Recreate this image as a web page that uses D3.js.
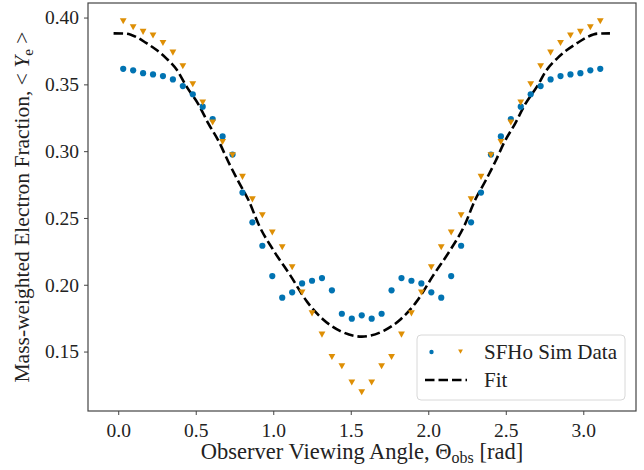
<!DOCTYPE html>
<html>
<head>
<meta charset="utf-8">
<script src="https://cdn.jsdelivr.net/npm/d3@7"></script>
<style>
  body { margin: 0; background: #fff; }
  text { font-family: "Liberation Serif", "DejaVu Serif", serif; fill: #222; }
</style>
</head>
<body>
<div id="chart"></div>
<script>
// viewing angle bin centres [rad]
const angles = [
  0.0321, 0.0962, 0.1603, 0.2244, 0.2885, 0.3526, 0.4167, 0.4809, 0.5450, 0.6091,
  0.6732, 0.7373, 0.8015, 0.8655, 0.9297, 0.9938, 1.0579, 1.1220, 1.1861, 1.2502,
  1.3143, 1.3784, 1.4425, 1.5067, 1.5708, 1.6349, 1.6990, 1.7631, 1.8272, 1.8914,
  1.9555, 2.0196, 2.0837, 2.1478, 2.2119, 2.2760, 2.3402, 2.4043, 2.4684, 2.5325,
  2.5966, 2.6607, 2.7248, 2.7890, 2.8531, 2.9172, 2.9813, 3.0454, 3.1095
];

// SFHo sim data, circles
const yeCircle = [
  0.3616, 0.3605, 0.3584, 0.3574, 0.3562, 0.3537, 0.3487, 0.3426, 0.3333, 0.3240,
  0.3110, 0.2975, 0.2690, 0.2467, 0.2292, 0.2065, 0.1903, 0.1943, 0.2010, 0.2030,
  0.2050, 0.1958, 0.1783, 0.1746, 0.1771, 0.1746, 0.1783, 0.1958, 0.2050, 0.2030,
  0.2010, 0.1943, 0.1903, 0.2065, 0.2292, 0.2467, 0.2690, 0.2975, 0.3110, 0.3240,
  0.3333, 0.3426, 0.3487, 0.3537, 0.3562, 0.3574, 0.3584, 0.3605, 0.3616
];

// SFHo sim data, triangles
const yeTriangle = [
  0.3974, 0.3929, 0.3894, 0.3867, 0.3811, 0.3739, 0.3637, 0.3502, 0.3365, 0.3216,
  0.3070, 0.2971, 0.2809, 0.2640, 0.2522, 0.2392, 0.2282, 0.2132, 0.1943, 0.1787,
  0.1628, 0.1460, 0.1391, 0.1270, 0.1197, 0.1270, 0.1391, 0.1460, 0.1628, 0.1787,
  0.1943, 0.2132, 0.2282, 0.2392, 0.2522, 0.2640, 0.2809, 0.2971, 0.3070, 0.3216,
  0.3365, 0.3502, 0.3637, 0.3739, 0.3811, 0.3867, 0.3894, 0.3929, 0.3974
];

// fit curve
const fitX = [
  -0.03, 0.05, 0.12, 0.18, 0.25, 0.31, 0.38, 0.44, 0.52, 0.58, 0.65, 0.71, 0.77,
  0.84, 0.91, 1.00, 1.11, 1.22, 1.32, 1.43, 1.571,
  1.712, 1.822, 1.922, 2.032, 2.142, 2.232, 2.302, 2.372, 2.432, 2.492, 2.562,
  2.622, 2.702, 2.762, 2.832, 2.892, 2.962, 3.022, 3.092, 3.172
];
const fitY = [
  0.3882, 0.3880, 0.3852, 0.3810, 0.3755, 0.3695, 0.3605, 0.3485, 0.3345, 0.3210,
  0.3070, 0.2921, 0.2784, 0.2634, 0.2440, 0.2260, 0.2070, 0.1870, 0.1742, 0.1655,
  0.1612,
  0.1655, 0.1742, 0.1870, 0.2070, 0.2260, 0.2440, 0.2634, 0.2784, 0.2921, 0.3070,
  0.3210, 0.3345, 0.3485, 0.3605, 0.3695, 0.3755, 0.3810, 0.3852, 0.3880, 0.3882
];

const xTicks = [0.0, 0.5, 1.0, 1.5, 2.0, 2.5, 3.0];
const yTicks = [0.15, 0.20, 0.25, 0.30, 0.35, 0.40];

const width = 644;
const height = 470;
const margin = { top: 3, right: 8, bottom: 59, left: 88 };

const blue = "#0173b2";
const orange = "#de8f05";
const spine = "#444";

const x = d3.scaleLinear()
  .domain([-0.195, 3.34])
  .range([margin.left, width - margin.right]);

const y = d3.scaleLinear()
  .domain([0.1055, 0.4109])
  .range([height - margin.bottom, margin.top]);

const svg = d3.select("#chart")
  .append("svg")
  .attr("width", width)
  .attr("height", height);

// fit line
const fitData = fitX.map((v, i) => [v, fitY[i]]);
svg.append("path")
  .datum(fitData)
  .attr("fill", "none")
  .attr("stroke", "#000")
  .attr("stroke-width", 2.6)
  .attr("stroke-dasharray", "9.5,4")
  .attr("d", d3.line().x(d => x(d[0])).y(d => y(d[1])).curve(d3.curveMonotoneX));

// circles
svg.selectAll(".dot")
  .data(angles.map((a, i) => [a, yeCircle[i]]))
  .enter()
  .append("circle")
  .attr("class", "dot")
  .attr("cx", d => x(d[0]))
  .attr("cy", d => y(d[1]))
  .attr("r", 3.1)
  .attr("fill", blue);

// triangles (pointing down)
const tri = s => `M${-s},${-s * 0.85}L${s},${-s * 0.85}L0,${s * 0.95}Z`;
svg.selectAll(".tri")
  .data(angles.map((a, i) => [a, yeTriangle[i]]))
  .enter()
  .append("path")
  .attr("class", "tri")
  .attr("transform", d => `translate(${x(d[0])},${y(d[1])})`)
  .attr("d", tri(3.4))
  .attr("fill", orange);

// axes
const xAxis = svg.append("g")
  .attr("transform", `translate(0,${height - margin.bottom})`)
  .call(d3.axisBottom(x).tickValues(xTicks).tickFormat(d3.format(".1f")).tickSize(4).tickPadding(5));

const yAxis = svg.append("g")
  .attr("transform", `translate(${margin.left},0)`)
  .call(d3.axisLeft(y).tickValues(yTicks).tickFormat(d3.format(".2f")).tickSize(4).tickPadding(5));

[xAxis, yAxis].forEach(g => {
  g.select(".domain").remove();
  g.selectAll(".tick line").attr("stroke", spine).attr("stroke-width", 1);
  g.selectAll(".tick text")
    .style("font-size", "19.5px")
    .style("font-family", "'Liberation Serif', serif")
    .attr("fill", "#222");
});
xAxis.selectAll(".tick text").attr("dy", "0.85em");

// frame
svg.append("rect")
  .attr("x", margin.left)
  .attr("y", margin.top)
  .attr("width", width - margin.left - margin.right)
  .attr("height", height - margin.top - margin.bottom)
  .attr("fill", "none")
  .attr("stroke", spine)
  .attr("stroke-width", 1.2);

// axis labels
const xLabel = svg.append("text")
  .attr("x", (margin.left + width - margin.right) / 2)
  .attr("y", 459)
  .attr("text-anchor", "middle")
  .style("font-size", "22.5px");
xLabel.append("tspan").text("Observer Viewing Angle, ");
xLabel.append("tspan").text("Θ");
xLabel.append("tspan").attr("dy", 4).style("font-size", "16px").text("obs");
xLabel.append("tspan").attr("dy", -4).text(" [rad]");

const yLabel = svg.append("text")
  .attr("transform", `translate(29,${(margin.top + height - margin.bottom) / 2}) rotate(-90)`)
  .attr("text-anchor", "middle")
  .style("font-size", "21.5px");
yLabel.append("tspan").text("Mass-weighted Electron Fraction, < ");
yLabel.append("tspan").style("font-style", "italic").text("Y");
yLabel.append("tspan").attr("dy", 4).style("font-size", "15px").text("e");
yLabel.append("tspan").attr("dy", -4).text(" >");

// legend
const lg = svg.append("g").attr("transform", "translate(417,335)");
lg.append("rect")
  .attr("width", 208)
  .attr("height", 65)
  .attr("rx", 4)
  .attr("fill", "#fff")
  .attr("fill-opacity", 0.8)
  .attr("stroke", "#d8d8d8")
  .attr("stroke-width", 1);
lg.append("circle")
  .attr("cx", 14.5)
  .attr("cy", 17)
  .attr("r", 2.2)
  .attr("fill", blue);
lg.append("path")
  .attr("transform", "translate(43.5,16.5)")
  .attr("d", tri(2.4))
  .attr("fill", orange);
lg.append("text")
  .attr("x", 67)
  .attr("y", 24)
  .style("font-size", "21px")
  .text("SFHo Sim Data");
lg.append("line")
  .attr("x1", 8)
  .attr("x2", 50)
  .attr("y1", 45)
  .attr("y2", 45)
  .attr("stroke", "#000")
  .attr("stroke-width", 2.6)
  .attr("stroke-dasharray", "9.5,4");
lg.append("text")
  .attr("x", 67)
  .attr("y", 52)
  .style("font-size", "21px")
  .text("Fit");
</script>
</body>
</html>
